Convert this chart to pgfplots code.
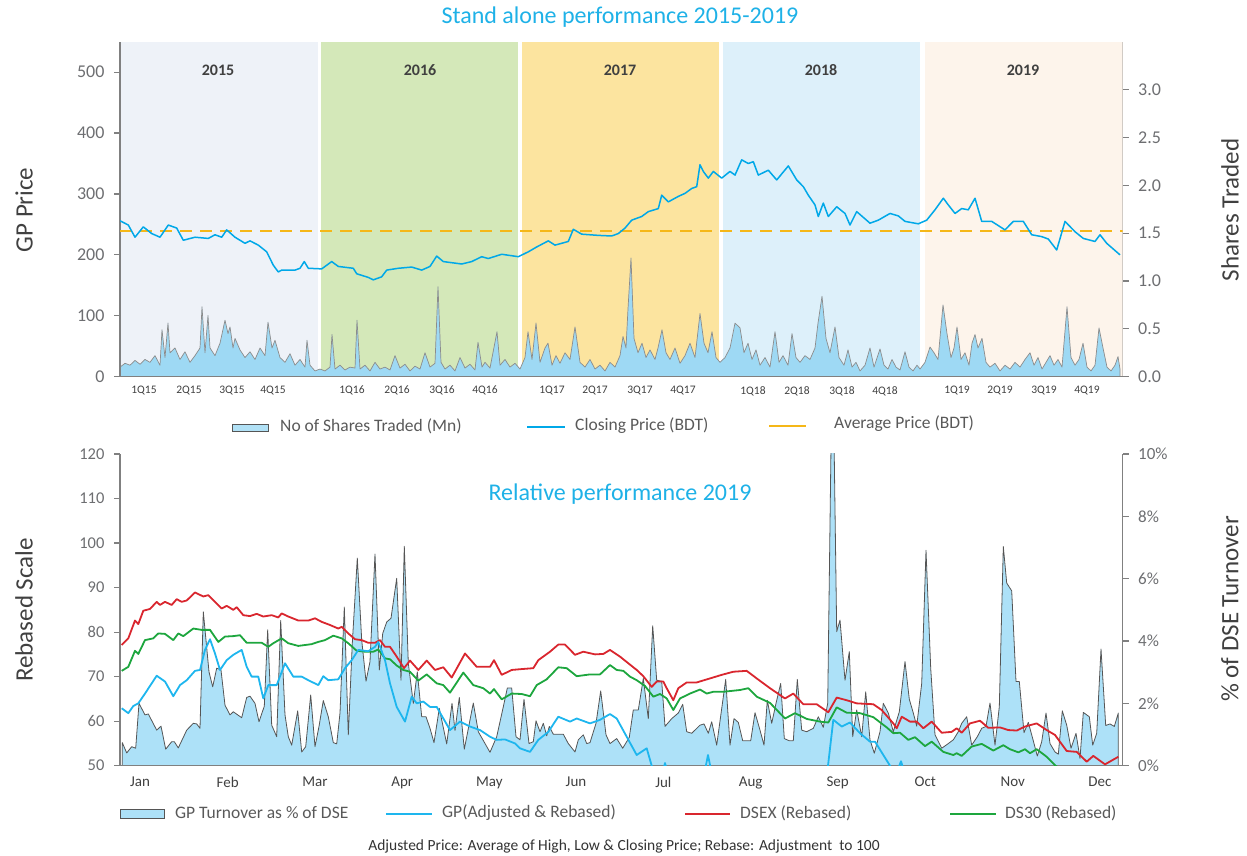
\documentclass[border=0pt]{standalone}
\usepackage{pgfplots}
\pgfplotsset{compat=1.18}
\usepackage{fontspec}
\setmainfont{Carlito}
\newcommand{\fz}[1]{\fontsize{#1}{#1}\selectfont}
\definecolor{axgray}{HTML}{808080}
\definecolor{tickgray}{HTML}{6D6E71}
\definecolor{lblgray}{HTML}{404040}
\definecolor{leggray}{HTML}{595959}
\definecolor{titlecyan}{HTML}{1EB1E7}
\definecolor{pricecyan}{HTML}{00A8E8}
\definecolor{avgyellow}{HTML}{F5B718}
\definecolor{yrA}{HTML}{EEF2F8}
\definecolor{yrB}{HTML}{D4E8B9}
\definecolor{yrC}{HTML}{FCE49F}
\definecolor{yrD}{HTML}{DDF0FA}
\definecolor{yrE}{HTML}{FDF4EB}
\definecolor{shfill}{HTML}{9ED9F4}
\definecolor{shline}{HTML}{8C8C8C}
\definecolor{tofill}{HTML}{ADE1F8}
\definecolor{toline}{HTML}{555555}
\definecolor{gpcyan}{HTML}{1EB6EE}
\definecolor{dsexred}{HTML}{D9262E}
\definecolor{dsgreen}{HTML}{1DA63E}
\pgfplotsset{
  base/.style={scale only axis, anchor=south west, width=1002.7pt, xmin=0, xmax=1002.7,
    axis line style={draw=axgray,line width=1.3pt},
    major tick length=6pt, tick align=outside,
    ytick style={draw=axgray,line width=1.2pt},
    xtick style={draw=none},
    /pgf/number format/assume math mode=true,
    scaled y ticks=false},
}
\begin{document}
\begin{tikzpicture}
\useasboundingbox (0pt,0pt) rectangle (1247pt,856pt);
% ---------- TOP: right axis (bands + shares traded)
\begin{axis}[base, at={(120pt,479.3pt)}, height=335pt, ymin=0, ymax=3.5,
  axis x line=none, axis y line*=right,
  ytick={0,0.5,1,1.5,2,2.5,3},
  yticklabel style={font=\fz{18}, text=tickgray, xshift=6pt, /pgf/number format/fixed,
    /pgf/number format/fixed zerofill, /pgf/number format/precision=1}]
\addplot[fill=yrA, draw=none] coordinates {(0,3.5)(197.5,3.5)} \closedcycle;
\addplot[fill=yrB, draw=none] coordinates {(201,3.5)(398.3,3.5)} \closedcycle;
\addplot[fill=yrC, draw=none] coordinates {(401.7,3.5)(599,3.5)} \closedcycle;
\addplot[fill=yrD, draw=none] coordinates {(603,3.5)(800,3.5)} \closedcycle;
\addplot[fill=yrE, draw=none] coordinates {(805,3.5)(1002.7,3.5)} \closedcycle;
\addplot[fill=shfill, draw=shline, line width=0.7pt, line join=round] coordinates {
(0,0.10)(5,0.14)(10,0.12)(15,0.17)(20,0.13)(25,0.18)(30,0.15)(35,0.22)(40,0.12)(42,0.49)(45,0.20)(48,0.56)(50,0.25)(55,0.30)(60,0.18)(65,0.26)(70,0.15)(75,0.22)(80,0.30)(82,0.73)(85,0.25)(88,0.64)(90,0.30)(95,0.22)(100,0.35)(105,0.59)(108,0.45)(110,0.52)(113,0.30)(115,0.40)(120,0.28)(125,0.20)(130,0.26)(135,0.18)(140,0.30)(145,0.22)(148,0.57)(152,0.30)(155,0.38)(160,0.20)(165,0.15)(170,0.24)(175,0.12)(180,0.18)(185,0.10)(187,0.38)(190,0.12)(195,0.06)(200,0.08)
(205,0.06)(210,0.10)(212,0.44)(215,0.08)(220,0.12)(225,0.07)(230,0.10)(235,0.09)(237,0.59)(240,0.08)(245,0.12)(250,0.06)(255,0.15)(260,0.08)(265,0.10)(270,0.07)(275,0.22)(280,0.09)(285,0.13)(290,0.06)(295,0.11)(300,0.08)(305,0.25)(310,0.10)(315,0.14)(318,0.94)(321,0.15)(325,0.08)(330,0.12)(335,0.06)(340,0.20)(345,0.09)(350,0.13)(355,0.07)(358,0.36)(362,0.10)(365,0.15)(370,0.09)(377,0.47)(380,0.12)(385,0.18)(390,0.10)(395,0.14)(400,0.08)
(405,0.20)(408,0.47)(412,0.18)(416,0.56)(420,0.15)(425,0.30)(428,0.35)(432,0.12)(436,0.22)(440,0.14)(445,0.25)(450,0.18)(455,0.52)(460,0.15)(465,0.10)(470,0.18)(475,0.08)(480,0.12)(485,0.06)(490,0.15)(495,0.10)(500,0.22)(503,0.42)(506,0.30)(508,0.71)(511,1.24)(514,0.40)(518,0.25)(522,0.35)(526,0.20)(530,0.28)(535,0.18)(538,0.30)(542,0.49)(546,0.25)(550,0.18)(555,0.30)(560,0.14)(565,0.22)(570,0.35)(575,0.20)(580,0.66)(584,0.35)(588,0.25)(592,0.47)(596,0.20)(600,0.15)
(605,0.20)(610,0.30)(615,0.56)(620,0.51)(624,0.25)(628,0.35)(632,0.18)(636,0.28)(640,0.12)(645,0.20)(650,0.10)(655,0.47)(659,0.15)(663,0.22)(668,0.12)(672,0.45)(676,0.20)(680,0.15)(685,0.22)(690,0.18)(695,0.30)(698,0.56)(702,0.84)(706,0.40)(710,0.25)(715,0.52)(719,0.20)(724,0.12)(728,0.28)(732,0.10)(736,0.15)(740,0.06)(745,0.12)(750,0.30)(754,0.10)(760,0.29)(764,0.12)(768,0.08)(772,0.18)(776,0.10)(780,0.07)(785,0.26)(789,0.10)(793,0.06)(797,0.12)(800,0.08)
(805,0.15)(810,0.31)(814,0.25)(818,0.18)(823,0.75)(827,0.45)(831,0.20)(834,0.30)(837,0.52)(841,0.18)(845,0.25)(849,0.12)(852,0.35)(855,0.44)(858,0.30)(862,0.40)(866,0.15)(870,0.10)(875,0.14)(880,0.06)(885,0.12)(890,0.08)(895,0.15)(900,0.10)(905,0.18)(910,0.25)(914,0.12)(918,0.20)(922,0.08)(926,0.15)(930,0.22)(934,0.12)(938,0.18)(942,0.10)(947,0.73)(951,0.20)(955,0.12)(959,0.18)(963,0.35)(967,0.10)(971,0.06)(975,0.12)(979,0.51)(983,0.30)(987,0.10)(991,0.06)(995,0.12)(998,0.21)(1000,0.08)
} \closedcycle;
\end{axis}
% ---------- TOP: left axis (price)
\begin{axis}[base, at={(120pt,479.3pt)}, height=335pt, ymin=0, ymax=550,
  axis x line*=bottom, axis y line*=left,
  ytick={0,100,200,300,400,500},
  yticklabel style={font=\fz{18}, text=tickgray, xshift=-6pt},
  xtick={24,69,112,153,232,277,322,365,432,475,520,563,633,677,722,765,837,880,924,967},
  xticklabels={1Q15,2Q15,3Q15,4Q15,1Q16,2Q16,3Q16,4Q16,1Q17,2Q17,3Q17,4Q17,1Q18,2Q18,3Q18,4Q18,1Q19,2Q19,3Q19,4Q19},
  xticklabel style={font=\fz{11.5}, text=lblgray}]
\addplot[avgyellow, line width=2pt, dash pattern=on 12pt off 8pt] coordinates {(0,239)(1002.7,239)};
\addplot[pricecyan, line width=1.5pt, line join=round] coordinates {
(0,256)(8.3,249)(15,229)(23.3,246)(31.7,235)(40,229)(48.3,249)(56.7,244)(63.3,224)(75,229)(88.3,227)(95,233)(101.7,229)(106.7,241)(115,229)(125,219)(130,223)(138.3,216)(146.7,205)(153.3,183)(158.3,172)(161.7,175)(175,175)(180,178)(184.3,189)(188.3,178)(201.7,177)(211.7,189)(218.3,181)(233.3,178)(236.7,169)(248.3,163)(253.3,159)(261.7,164)(266.7,175)(278.3,178)(291.7,180)(301.7,175)(310,181)(316.7,198)(323.3,189)(341.7,185)(351.7,189)(361.7,197)(368.3,194)(381.7,201)(398.3,197)(408.3,205)(416.7,213)(428.3,223)(435,216)(448.3,222)(453.3,242)(461.7,234)(478.3,232)(491.7,231)(498.3,235)(505,244)(511.7,257)(521.7,263)(528.3,271)(538.3,276)(541.7,298)(548.3,287)(558.3,296)(565,301)(571.7,309)(576.7,312)(580,348)(583.3,337)(588.3,326)(593.3,337)(601.7,326)(610,337)(615,331)(621.7,356)(628.3,350)(633.3,353)(638.3,331)(648.3,339)(656.7,323)(668.3,346)(676.7,323)(683.3,312)(688.3,298)(695,282)(698.3,263)(703.3,285)(708.3,263)(716.7,279)(725,268)(730,249)(736.7,271)(750,252)(758.3,257)(770,268)(778.3,264)(785,255)(798.3,251)(806.7,257)(815,274)(823.3,293)(828.3,282)(835,268)(841.7,276)(848.3,274)(855,293)(861.7,255)(871.7,255)(885,241)(893.3,255)(903.3,255)(911.7,233)(921.7,230)(928.3,226)(936.7,208)(945,255)(955,238)(963.3,227)(975,222)(980,233)(986.7,219)(1000,200)
};
\end{axis}
% ---------- BOTTOM: right axis (turnover)
\begin{axis}[base, at={(120pt,90.3pt)}, height=311.7pt, ymin=0, ymax=10,
  axis x line=none, axis y line*=right,
  ytick={0,2,4,6,8,10}, yticklabels={0\%,2\%,4\%,6\%,8\%,10\%},
  yticklabel style={font=\fz{17}, text=tickgray, xshift=6pt}]
\addplot[fill=tofill, draw=toline, line width=0.8pt, line join=round] coordinates {
(2.3,0)(2.3,0.74)(6.7,0.41)(11.7,0.61)(15.7,0.56)(19,2.00)(25,1.63)(28.3,1.66)(36.7,1.14)(41,1.27)(45.7,0.53)(51.7,0.77)(54.3,0.77)(58.3,0.57)(66.7,1.14)(73.3,1.36)(76.7,1.34)(80,1.20)(83.3,4.94)(89,3.01)(92.7,2.53)(96.7,3.13)(101,3.07)(105,1.94)(110,1.63)(113.3,1.73)(121.7,1.54)(126.7,2.19)(130,2.23)(135,2.00)(139,1.41)(144.3,1.91)(147.7,4.36)(151.7,1.30)(156.7,0.93)(160.7,4.66)(165,1.63)(168.3,0.93)(171.7,0.66)(177.7,1.76)(181.7,0.44)(185.7,0.61)(190.7,2.27)(195,0.61)(199,1.26)(203.3,2.09)(208.3,1.57)(213.3,0.74)(216.7,0.70)(220,1.69)(224.3,5.09)(228.3,0.99)(232.3,3.93)(237.3,6.66)(241.7,4.03)(246,2.71)(250,3.34)(255,6.79)(259.3,3.07)(262.7,4.24)(266.7,4.61)(271,4.73)(276.7,6.01)(281,2.74)(284.3,7.04)(288.3,3.29)(293.3,2.00)(297.3,3.01)(301.7,1.57)(306,1.57)(310,1.20)(314,0.74)(319.3,1.84)(326.7,0.70)(332,2.00)(335,1.13)(339.3,2.19)(344.3,0.53)(353.3,2.01)(358.3,1.09)(370,0.43)(376.7,0.93)(383.3,1.89)(387.3,2.49)(391.7,2.49)(396,0.93)(400,0.83)(404,2.13)(409,0.71)(413.3,0.77)(416,1.44)(420,1.09)(423.3,1.36)(426.7,0.96)(429.3,1.26)(433.3,1.01)(443.3,1.01)(448.3,0.71)(455,0.44)(458.3,0.83)(463.3,0.99)(466.7,0.71)(470,0.74)(476,1.36)(480.7,2.40)(486,0.99)(490,0.71)(496.7,0.87)(502.7,0.56)(509.3,0.91)(513.3,1.79)(518.3,1.79)(523.3,2.80)(528.3,1.51)(532.7,4.49)(536.7,2.74)(541.7,2.71)(545,1.26)(551.7,1.51)(558.3,1.69)(562.7,1.97)(566.7,1.09)(571.7,1.04)(580,1.30)(584,1.34)(588.3,1.04)(591.7,1.41)(596.7,0.66)(605.7,2.77)(610,0.66)(614,1.51)(618.3,1.39)(622.7,0.80)(630.7,0.80)(635,1.70)(640,1.14)(644,0.66)(647.3,2.10)(651.7,1.36)(656,2.00)(660.7,2.64)(664.3,0.87)(669.3,0.80)(673.3,0.80)(677.3,2.77)(681.7,1.14)(686.7,1.09)(693.3,1.20)(698.3,1.57)(703.3,1.23)(707.7,2.00)(712.5,14)(716.7,4.30)(720,4.67)(725,2.74)(729.3,3.66)(732.7,0.93)(736.7,1.79)(741.7,0.93)(745.7,2.37)(750,0.83)(754.3,0.40)(760,1.09)(763.3,2.00)(768.3,1.69)(773.3,1.09)(779.3,1.73)(785,3.34)(789.3,2.13)(793.3,1.69)(796.7,1.27)(801.7,2.64)(806,6.91)(810.7,3.13)(815,0.99)(821.7,0.56)(828.3,0.71)(833.3,0.83)(838.3,1.09)(841.7,1.36)(846.7,1.57)(851.7,0.66)(857.3,0.93)(861.7,1.20)(866,1.26)(870,2.01)(875,0.66)(879.3,1.89)(883.3,7.03)(886.7,5.86)(891.7,5.61)(896,2.70)(899.3,2.70)(904,1.06)(908.3,1.39)(912.7,0.87)(917.3,0.31)(921.7,0.77)(926,1.69)(930,0.71)(935,0.44)(938.3,0.37)(942.3,1.76)(946.7,1.30)(951,0.56)(956,1.04)(960,0.23)(963.3,1.71)(969.3,1.57)(972.7,0.66)(976.7,1.04)(981,3.74)(985.7,1.29)(990,1.34)(994.3,1.26)(998.3,1.69)(998.3,0)
} \closedcycle;
\end{axis}
% ---------- BOTTOM: left axis (rebased lines)
\begin{axis}[base, at={(120pt,90.3pt)}, height=311.7pt, ymin=50, ymax=120,
  axis x line*=bottom, axis y line*=left,
  ytick={50,60,70,80,90,100,110,120},
  yticklabel style={font=\fz{16.5}, text=tickgray, xshift=-6pt},
  xtick={20,107.7,195,282.3,369.3,456,543.3,630.7,717.7,805.3,892.7,980},
  xticklabels={Jan,Feb,Mar,Apr,May,Jun,Jul,Aug,Sep,Oct,Nov,Dec},
  xticklabel style={font=\fz{15}, text=lblgray, yshift=-2pt}]
\addplot[dsexred, line width=1.8pt, line join=round] coordinates {
(1.7,77.1)(8.3,78.6)(15,82.6)(18.3,81.8)(23.3,84.8)(30,85.2)(36.7,86.8)(40,86.1)(45,86.8)(51.7,86.1)(56.7,87.4)(61.7,86.8)(66.7,87.1)(75,88.9)(83.3,88.0)(88.3,88.3)(95,86.8)(101.7,85.3)(106.7,85.9)(113.3,85.0)(116.7,85.6)(123.3,83.8)(130,83.6)(136.7,84.1)(143.3,83.5)(151.7,83.8)(158.3,83.3)(161.7,84.2)(168.3,83.5)(178.3,82.6)(188.3,82.6)(195,83.1)(201.7,82.3)(210,81.6)(218.3,80.8)(221.7,81.2)(228.3,79.7)(235,78.4)(241.7,78.2)(248.3,77.6)(255,77.6)(260,78.2)(265,76.7)(270,76.7)(276.7,74.5)(284,71.9)(290,73.6)(298.3,71.5)(306.7,73.6)(315,71.5)(323.3,72.1)(331.7,69.8)(345,75.2)(356.7,72.2)(370,72.2)(374,73.7)(381.7,70.4)(391.7,71.5)(401.7,71.7)(413.3,71.9)(418.3,73.7)(430,75.6)(438.3,77.2)(445,77.2)(455,74.9)(463.3,75.6)(475,75.0)(483.3,75.1)(490,76.0)(500,74.5)(508.3,73.0)(516.7,71.5)(523.3,70.1)(531.7,67.7)(536.7,68.9)(543.3,68.9)(546.7,67.4)(553.3,64.7)(558.3,67.4)(566.7,68.7)(576.7,68.7)(590,69.6)(601.7,70.4)(613.3,71.1)(626.7,71.3)(636.7,69.6)(650,67.4)(665,65.1)(673.3,66.2)(683.3,63.8)(696.7,63.8)(708.3,62.0)(716.7,65.3)(726.7,64.7)(736.7,64.0)(753.3,63.8)(761.7,62.5)(773.3,59.5)(776.7,58.4)(781.7,61.0)(790,59.9)(796.7,59.9)(803.3,58.4)(811.7,59.9)(821.7,57.4)(831.7,57.6)(836.7,58.4)(841.7,57.4)(850,59.5)(860,60.1)(868.3,58.5)(880,58.6)(888.3,58.0)(896.7,57.9)(905,58.8)(916.7,59.5)(926.7,58.0)(935,56.9)(946.7,53.3)(956.7,53.1)(966.7,50.9)(973.3,52.2)(985,50.3)(998.3,52.0)
};
\addplot[dsgreen, line width=1.8pt, line join=round] coordinates {
(1.7,71.3)(8.3,72.2)(15,75.8)(18.3,75.1)(25,78.2)(33.3,78.6)(38.3,79.7)(45,79.6)(53.3,78.2)(58.3,79.7)(63.3,79.1)(73.3,80.8)(81.7,80.5)(90,80.5)(98.3,77.8)(105,79.0)(113.3,79.1)(120,79.3)(126.7,77.6)(141.7,77.6)(148.3,76.7)(153.3,77.5)(161.7,78.6)(168.3,77.5)(178.3,76.9)(191.7,77.3)(198.3,77.8)(205,78.2)(213.3,79.2)(221.7,78.6)(228.3,77.5)(236.7,75.8)(245,75.6)(253.3,75.6)(258.3,76.1)(265,74.1)(270,73.9)(276.7,72.5)(283.3,71.5)(290,71.1)(298.3,69.1)(306.7,70.5)(316.7,68.5)(323.3,68.1)(330,66.4)(343.3,70.9)(353.3,68.1)(363.3,67.4)(370,66.2)(374,67.2)(381.7,64.9)(391.7,66.2)(401.7,66.1)(410,65.6)(416.7,68.1)(426.7,69.4)(438.3,72.1)(446.7,71.9)(456.7,70.1)(470,70.5)(480,70.5)(490,72.6)(496.7,71.5)(503.3,71.3)(510,70.0)(516.7,69.2)(525,67.9)(533.3,65.5)(540,66.1)(546.7,65.1)(553.3,62.5)(560,65.1)(570,66.2)(580,67.1)(586.7,66.2)(593.3,66.6)(603.3,66.6)(620,67.0)(628.3,67.4)(636.7,65.5)(650,64.1)(665,60.6)(675,61.8)(686.7,60.5)(700,59.9)(708.3,59.7)(716.7,63.1)(726.7,61.9)(740,61.8)(753.3,60.9)(766.7,58.6)(773.3,57.3)(780,57.4)(788.3,55.8)(795,56.4)(805,54.4)(811.7,55.4)(823.3,53.1)(833.3,52.4)(836.7,52.8)(841.7,52.2)(851.7,54.3)(861.7,54.9)(873.3,53.4)(883.3,54.6)(890,53.7)(898.3,53.0)(905,53.7)(910,52.8)(916.7,53.7)(926.7,52.0)(935,50.1)(945,48.5)
};
\addplot[gpcyan, line width=1.8pt, line join=round] coordinates {
(1.7,62.9)(8.3,61.8)(13.3,63.4)(18.3,64.0)(25,66.2)(36.7,70.2)(45,68.9)(53.3,65.6)(60,68.1)(66.7,69.2)(75,71.3)(80,71.5)(85,76.0)(90,78.4)(95,75.2)(100,71.5)(106.7,73.7)(113.3,74.9)(121.7,76.0)(126.7,72.2)(131.7,70.0)(138.3,70.0)(143.3,65.1)(148.3,68.1)(156.7,68.1)(165,73.0)(173.3,70.0)(181.7,70.0)(188.3,69.2)(198.3,68.1)(203.3,70.1)(208.3,69.2)(218.3,69.4)(225,71.9)(231.7,73.7)(238.3,76.0)(248.3,75.7)(255,76.7)(258.3,77.8)(265,73.7)(270,68.5)(276.7,63.2)(285,59.9)(291.7,65.5)(296.7,64.0)(303.3,64.4)(310,63.2)(316.7,63.2)(330,58.0)(340,59.9)(350,58.8)(360,58.0)(370,56.5)(376.7,55.8)(385,55.9)(395,55.0)(400,53.9)(410,53.1)(418.3,55.8)(428.3,57.6)(438.3,61.0)(450,59.9)(456.7,60.6)(470,59.5)(480,60.3)(490,61.6)(496.7,60.6)(506.7,56.5)(516.7,52.4)(526.7,53.9)(531.7,50.0)(536,47)(542,48)(545,50.6)(548,48)(580,46)(585,49)(588,52.4)(591,49)(600,46)(700,46)(708,50)(713.3,60.3)(721.7,58.8)(730,59.7)(740,57.3)(750,55.4)(755,55.4)(770,50.0)(776,48)(781,51)(785,48)
};
\end{axis}
% ---------- titles, axis labels, legends
\node[font=\fz{24}, text=titlecyan] at (620pt,839pt) {Stand alone performance 2015-2019};
\node[font=\fz{24}, text=titlecyan] at (620pt,362pt) {Relative performance 2019};
\node[font=\bfseries\fz{16}, text=lblgray] at (218pt,786pt) {2015};
\node[font=\bfseries\fz{16}, text=lblgray] at (420pt,786pt) {2016};
\node[font=\bfseries\fz{16}, text=lblgray] at (620pt,786pt) {2017};
\node[font=\bfseries\fz{16}, text=lblgray] at (821pt,786pt) {2018};
\node[font=\bfseries\fz{16}, text=lblgray] at (1023pt,786pt) {2019};
\node[rotate=90, font=\fz{25}, text=lblgray] at (24pt,646pt) {GP Price};
\node[rotate=90, font=\fz{25}, text=lblgray] at (1230pt,646pt) {Shares Traded};
\node[rotate=90, font=\fz{25}, text=lblgray] at (24pt,246pt) {Rebased Scale};
\node[rotate=90, font=\fz{25}, text=lblgray] at (1230pt,247pt) {\% of DSE Turnover};
% top legend
\draw[draw=toline, fill=shfill!80!white, line width=0.8pt] (232pt,425pt) rectangle (268pt,432pt);
\node[anchor=west, font=\fz{17.5}, text=leggray, inner sep=0pt] at (280pt,430pt) {No of Shares Traded (Mn)};
\draw[pricecyan, line width=2.2pt] (527pt,429pt) -- (565pt,429pt);
\node[anchor=west, font=\fz{17.5}, text=leggray, inner sep=0pt] at (575pt,430pt) {Closing Price (BDT)};
\draw[avgyellow, line width=2.2pt] (769pt,430pt) -- (806pt,430pt);
\node[anchor=west, font=\fz{17.5}, text=leggray, inner sep=0pt] at (834pt,432pt) {Average Price (BDT)};
% bottom legend
\draw[draw=toline, fill=tofill, line width=0.8pt] (120pt,38pt) rectangle (164pt,47pt);
\node[anchor=west, font=\fz{17.5}, text=leggray, inner sep=0pt] at (175pt,43pt) {GP Turnover as \% of DSE};
\draw[gpcyan, line width=2.2pt] (386pt,42pt) -- (432pt,42pt);
\node[anchor=west, font=\fz{17.5}, text=leggray, inner sep=0pt] at (442pt,43pt) {GP(Adjusted \& Rebased)};
\draw[dsexred, line width=2.2pt] (685pt,42pt) -- (730pt,42pt);
\node[anchor=west, font=\fz{17.5}, text=leggray, inner sep=0pt] at (740pt,43pt) {DSEX (Rebased)};
\draw[dsgreen, line width=2.2pt] (950pt,42pt) -- (996pt,42pt);
\node[anchor=west, font=\fz{17.5}, text=leggray, inner sep=0pt] at (1005pt,43pt) {DS30 (Rebased)};
\node[font=\fz{15.5}, text=black!80] at (624pt,10pt) {Adjusted Price: Average of High, Low \& Closing Price; Rebase: Adjustment\ \ to 100};
\end{tikzpicture}
\end{document}
